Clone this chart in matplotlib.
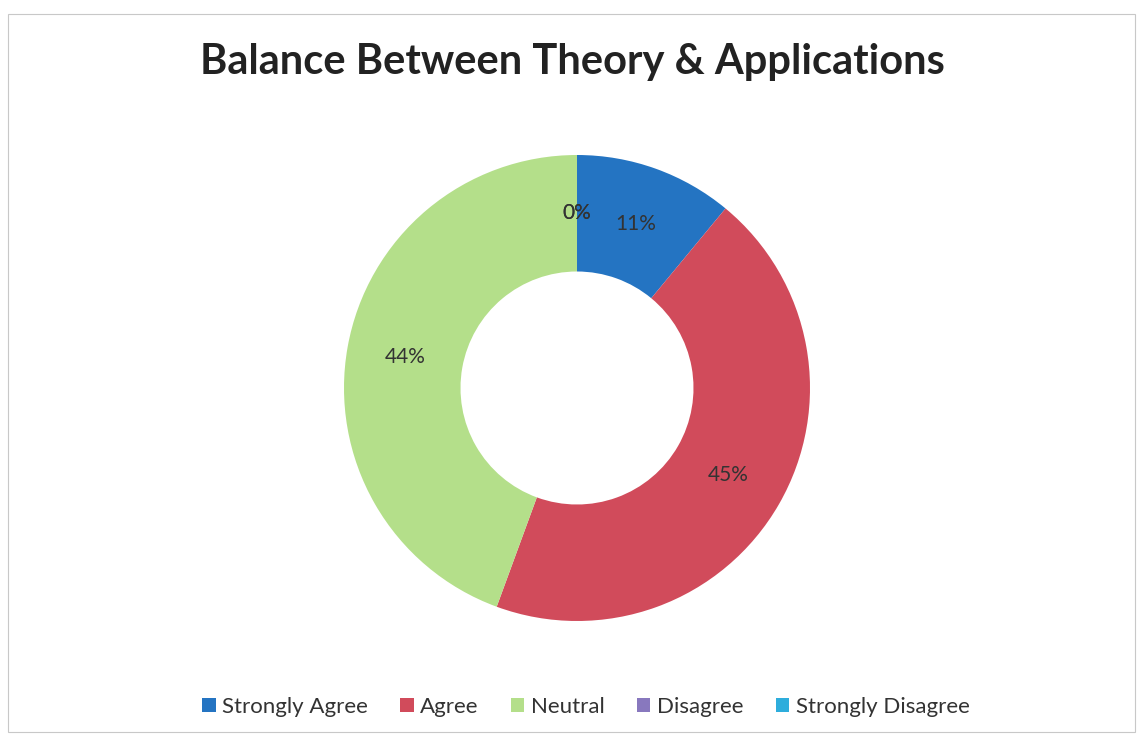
import matplotlib.pyplot as plt
from matplotlib.patches import Rectangle

# datos
categorias = ['Strongly Agree', 'Agree', 'Neutral', 'Disagree', 'Strongly Disagree']
porcentajes = [11.0, 44.6, 44.4, 0, 0]
colores = ['#2474c2', '#d14b5b', '#b4df8a', '#8878be', '#2eaddc']

plt.rcParams['font.family'] = ['Lato', 'DejaVu Sans']

fig = plt.figure(figsize=(11.42, 7.39), dpi=100)

# marco gris finito como el de la hoja escaneada
fig.patches.append(Rectangle((8 / 1142, 7 / 739), 1127 / 1142, 718 / 739,
                             transform=fig.transFigure, fill=False,
                             edgecolor='#c8c8c8', linewidth=0.8))

# ejes cuadrados centrados en la dona (centro ~ (577, 388) px, radio ~233 px)
cx, cy, r_px, half = 577, 388, 233, 260
ax = fig.add_axes([(cx - half) / 1142, (739 - cy - half) / 739,
                   2 * half / 1142, 2 * half / 739])
lim = half / r_px

wedges, textos, autotextos = ax.pie(
    porcentajes, colors=colores, startangle=90, counterclock=False,
    radius=1, autopct='%1.0f%%', pctdistance=0.75,
    wedgeprops=dict(width=0.5, edgecolor='none'),
    textprops=dict(fontsize=15, color='#333333'))
ax.set_xlim(-lim, lim)
ax.set_ylim(-lim, lim)
ax.set_aspect('equal')
ax.axis('off')

fig.text(572 / 1142, 1 - 62 / 739, 'Balance Between Theory & Applications',
         ha='center', va='center', fontsize=30, fontweight='bold', color='#222222')

fig.legend(wedges, categorias, loc='center', bbox_to_anchor=(586 / 1142, 1 - 707 / 739),
           ncol=5, frameon=False, fontsize=16, handlelength=0.6, handleheight=0.6,
           handletextpad=0.3, columnspacing=1.45, labelcolor='#333333')

plt.savefig('out.png', dpi=100)
plt.close()
